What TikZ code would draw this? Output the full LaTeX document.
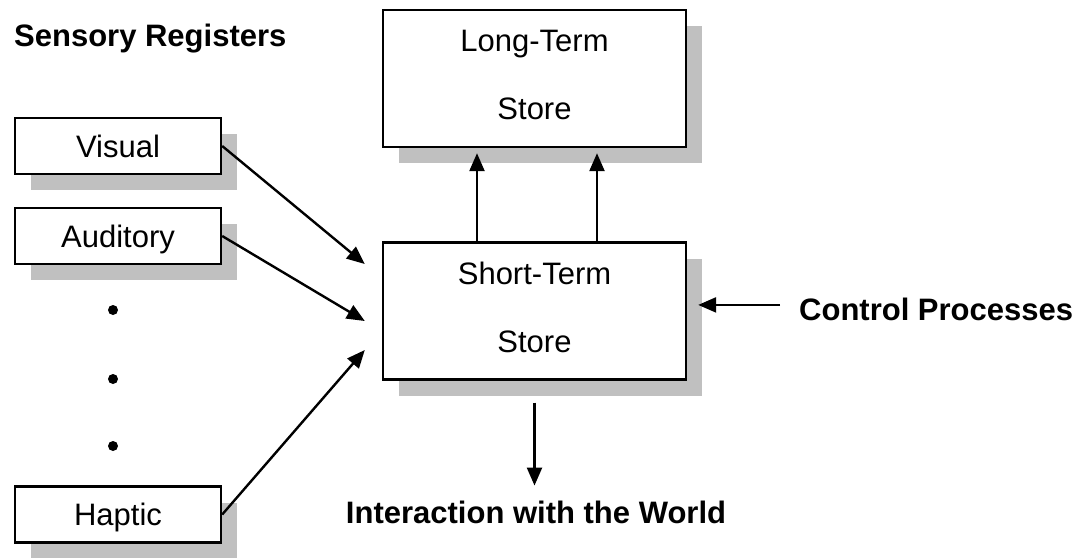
\documentclass[tikz,border=0pt]{standalone}
\usepackage{fontspec}
\setmainfont{Liberation Sans}
\usetikzlibrary{arrows.meta,shadows}

\definecolor{shadowgray}{RGB}{192,192,192}
\newcommand\diagfont{\fontsize{15.5}{18.6}\selectfont}

\begin{document}
\begin{tikzpicture}[->,>={Triangle[length=9pt,width=7.5pt]},line width=1.2pt,
                    x=0.5pt,y=-0.5pt,font=\diagfont]
	\tikzstyle{shadowed}=[drop shadow={shadow xshift=8pt,shadow yshift=-8pt,fill=shadowgray,opacity=1}]
	\tikzstyle{register}=[draw=black,fill=white,shadowed,minimum width=103pt,minimum height=28pt,
	                      inner sep=0pt,text height=11.2pt,text depth=0pt]
	\tikzstyle{store}=[draw=black,fill=white,shadowed,minimum width=151.5pt,minimum height=68.5pt,
	                   inner sep=0pt,align=center,text depth=3.5pt]
	\tikzstyle{heading}=[font=\diagfont\bfseries,inner sep=0pt]
	\tikzstyle{dot}=[circle,fill=black,inner sep=0pt,minimum size=5pt]

	\useasboundingbox (0,0) rectangle (1084,558);

	% sensory registers
	\node[heading,anchor=base west]	(sens)	at (13,46)	{Sensory Registers};
	\node[register]	(vis)	at (118,146)	{Visual};
	\node[register]	(aud)	at (118,236)	{Auditory};
	\node[dot]	(d1)	at (113,310)	{};
	\node[dot]	(d2)	at (113,379)	{};
	\node[dot]	(d3)	at (113,446)	{};
	\node[register]	(hap)	at (118,514.5)	{Haptic};

	% stores
	\node[store]	(lts)	at (534.5,78.5)	{Long-Term\\[15.4pt]Store};
	\node[store]	(sts)	at (534.5,311)	{Short-Term\\[15.4pt]Store};

	\node[heading,anchor=base west]	(ctrl)	at (798,320)	{Control Processes};
	\node[heading,anchor=base]	(world)	at (536,523)	{Interaction with the World};

	\coordinate (in1) at ([xshift=-8.5pt,yshift=23.5pt]sts.west);
	\coordinate (in2) at ([xshift=-8.5pt,yshift=-5pt]sts.west);
	\coordinate (in3) at ([xshift=-8.5pt,yshift=-19.5pt]sts.west);
	\coordinate (cp) at ([yshift=2pt]ctrl.west);

	\path (vis.east)	edge	(in1)
		(aud.east)	edge	(in2)
		(hap.east)	edge	(in3)
		([xshift=-28.75pt]sts.north)	edge	[shorten >=2.5pt]	([xshift=-28.75pt]lts.south)
		([xshift=31.25pt]sts.north)	edge	[shorten >=2.5pt]	([xshift=31.25pt]lts.south)
		(sts.south)	edge	[shorten <=11pt,shorten >=6.9pt]	(sts.south |- world.north)
		(cp)	edge	[shorten <=9pt,shorten >=5.5pt]	(cp -| sts.east);
\end{tikzpicture}
\end{document}
